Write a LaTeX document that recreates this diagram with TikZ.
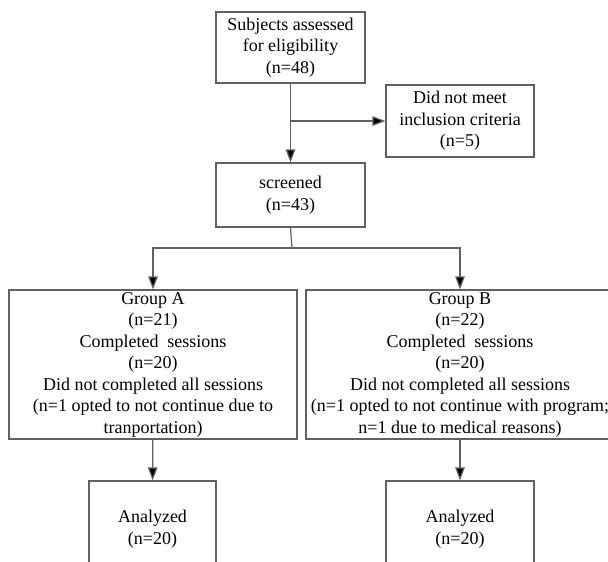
\documentclass[tikz,border=0pt]{standalone}
\usepackage{fontspec}
\setmainfont{Liberation Serif}
\usetikzlibrary{arrows.meta}
\begin{document}
\begin{tikzpicture}[x=1pt,y=-1pt,
    box/.style={draw=black!62,line width=1.2pt,align=center,inner sep=0pt,
      font=\fontsize{18}{21.5}\selectfont},
    link/.style={draw=black!62,line width=1.2pt,-{Triangle[length=13pt,width=9.5pt,fill=black]}}]
      \clip (0,0) rectangle (608,562);
      \draw
        (290.5,47.5) node[box,minimum width=149pt,minimum height=71pt] (subj){Subjects assessed\\for eligibility\\(n=48)}
        (460,121) node[box,minimum width=148pt,minimum height=72pt] (excl){Did not meet\\inclusion criteria\\(n=5)}
        (290.5,195) node[box,minimum width=149pt,minimum height=64pt] (scr){screened\\(n=43)}
        (153,364.5) node[box,minimum width=288pt,minimum height=149pt,text depth=3pt] (grpA){Group A\\(n=21)\\Completed\ \ sessions\\(n=20)\\Did not completed all sessions\\(n=1 opted to not continue due to\\tranportation)}
        (460,364.5) node[box,minimum width=308pt,minimum height=149pt,text depth=3pt] (grpB){Group B\\(n=22)\\Completed\ \ sessions\\(n=20)\\Did not completed all sessions\\(n=1 opted to not continue with program;\\n=1 due to medical reasons)}
        (152.5,529) node[box,minimum width=127pt,minimum height=96pt] (anaA){Analyzed\\(n=20)}
        (460,529) node[box,minimum width=148pt,minimum height=96pt] (anaB){Analyzed\\(n=20)};
      \coordinate (split) at (subj.south |- excl.west);
      \coordinate (fork) at (292,248);
      \begin{scope}[link]
        \draw (subj) to (scr);
        \draw (split) to (excl);
        \draw[-] (scr.south) to (fork);
        \draw (fork) -| (grpA);
        \draw (fork) -| (grpB);
        \draw (grpA) to (anaA);
        \draw (grpB) to (anaB);
      \end{scope}
    \end{tikzpicture}
\end{document}
